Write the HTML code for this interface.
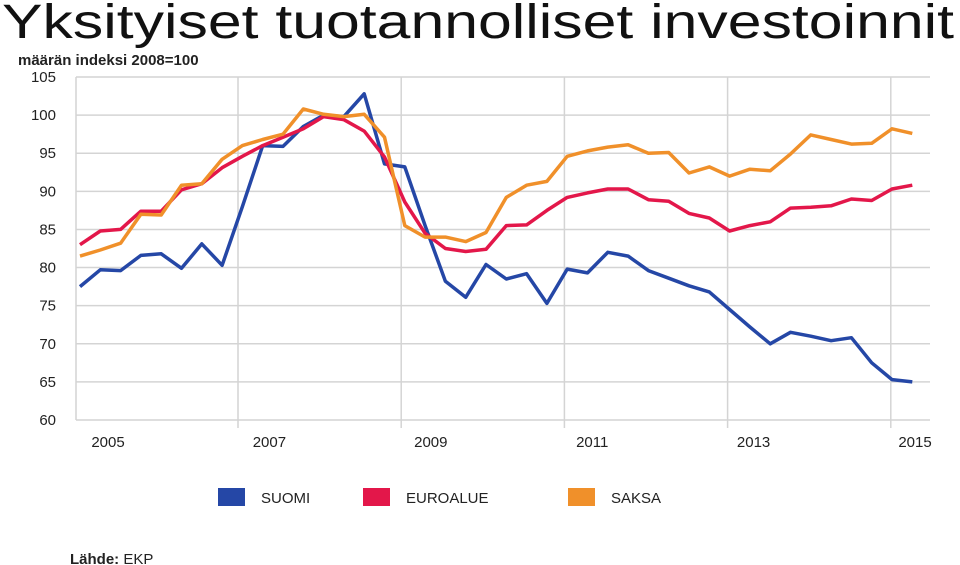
<!DOCTYPE html>
<html><head><meta charset="utf-8"><style>
html,body{margin:0;padding:0;background:#fff;}
svg{display:block;font-family:"Liberation Sans",Arial,sans-serif;}
</style></head><body>
<svg id="chart" width="960" height="565" viewBox="0 0 960 565">
<text x="2" y="38" font-size="48" textLength="952" lengthAdjust="spacingAndGlyphs" fill="#111">Yksityiset tuotannolliset investoinnit</text>
<text x="18" y="65" font-size="15" font-weight="600" fill="#222">määrän indeksi 2008=100</text>
<g id="grid"></g>
<g id="yticks"></g>
<g id="xticks"></g>
<g id="series"></g>
<g id="legend"></g>
<text x="70" y="564" font-size="15" fill="#222"><tspan font-weight="bold">Lähde:</tspan> EKP</text>
</svg>
<script>
const yTicks=[60,65,70,75,80,85,90,95,100,105];
const xYears=[2005,2007,2009,2011,2013,2015];
const seriesNames=["SUOMI","EUROALUE","SAKSA"];
const seriesColors=["#2547a6","#e3174a","#f0902a"];
const suomi=[77.5,79.7,79.6,81.6,81.8,79.9,83.1,80.3,88,96,95.9,98.5,100,99.8,102.8,93.6,93.2,85.5,78.2,76.1,80.4,78.5,79.2,75.3,79.8,79.3,82,81.5,79.6,78.6,77.6,76.8,74.5,72.2,70,71.5,71,70.4,70.8,67.5,65.3,65];
const euroalue=[83,84.8,85,87.4,87.4,90.2,91,93.1,94.6,96,97.1,98.2,99.8,99.4,97.9,94.5,88.6,84.5,82.5,82.1,82.4,85.5,85.6,87.5,89.2,89.8,90.3,90.3,88.9,88.7,87.1,86.5,84.8,85.5,86,87.8,87.9,88.1,89,88.8,90.3,90.8];
const saksa=[81.5,82.3,83.2,87,86.9,90.8,91,94.2,96,96.8,97.5,100.8,100.1,99.8,100.1,97.1,85.5,84,84,83.4,84.6,89.2,90.8,91.3,94.6,95.3,95.8,96.1,95,95.1,92.4,93.2,92,92.9,92.7,94.9,97.4,96.8,96.2,96.3,98.2,97.6];
const allSeries=[suomi,euroalue,saksa];
const NS="http://www.w3.org/2000/svg";
const L=76,R=930,T=77,B=420;
const yMin=60,yMax=105;
function y(v){return B-(v-yMin)/(yMax-yMin)*(B-T);}
function xq(i){return 80+i*20.3;}
function xYear(yr){return 238+(yr-2007)*81.6;}
function xLabel(yr){return 108+(yr-2005)*80.7;}
function mk(tag,attrs,parent){const e=document.createElementNS(NS,tag);for(const k in attrs)e.setAttribute(k,attrs[k]);parent.appendChild(e);return e;}
const grid=document.getElementById('grid'),yt=document.getElementById('yticks'),xt=document.getElementById('xticks'),sg=document.getElementById('series'),lg=document.getElementById('legend');
yTicks.forEach(v=>{
  const ln=mk('line',{x1:L,x2:R,y1:y(v),y2:y(v),stroke:'#d4d4d4','stroke-width':1.5},grid);
  
  
  const t=mk('text',{x:56,y:y(v)+5,'font-size':15,'text-anchor':'end',fill:'#222'},yt);
  t.textContent=v;
  
  
});
const vl=mk('line',{x1:L,x2:L,y1:T,y2:B,stroke:'#d4d4d4','stroke-width':1.5},grid);


xYears.forEach(yr=>{
  if(yr>2005){
    const g=mk('line',{x1:xYear(yr),x2:xYear(yr),y1:T,y2:B+8,stroke:'#d4d4d4','stroke-width':1.5},grid);
    
    
  }
  const t=mk('text',{x:xLabel(yr),y:447,'font-size':15,'text-anchor':'middle',fill:'#222'},xt);
  t.textContent=yr;
  
  
});
allSeries.forEach((data,s)=>{
  const pts=data.map((v,i)=>xq(i).toFixed(1)+','+y(v).toFixed(1)).join(' ');
  const p=mk('polyline',{points:pts,fill:'none',stroke:seriesColors[s],'stroke-width':3.5,'stroke-linejoin':'round'},sg);
  
  
});
const legX=[218,363,568];
seriesNames.forEach((n,s)=>{
  const r=mk('rect',{x:legX[s],y:488,width:27,height:18,fill:seriesColors[s]},lg);
  
  
  const t=mk('text',{x:legX[s]+43,y:503,'font-size':15,fill:'#222'},lg);
  t.textContent=n;
  
  
});
</script>
</body></html>
